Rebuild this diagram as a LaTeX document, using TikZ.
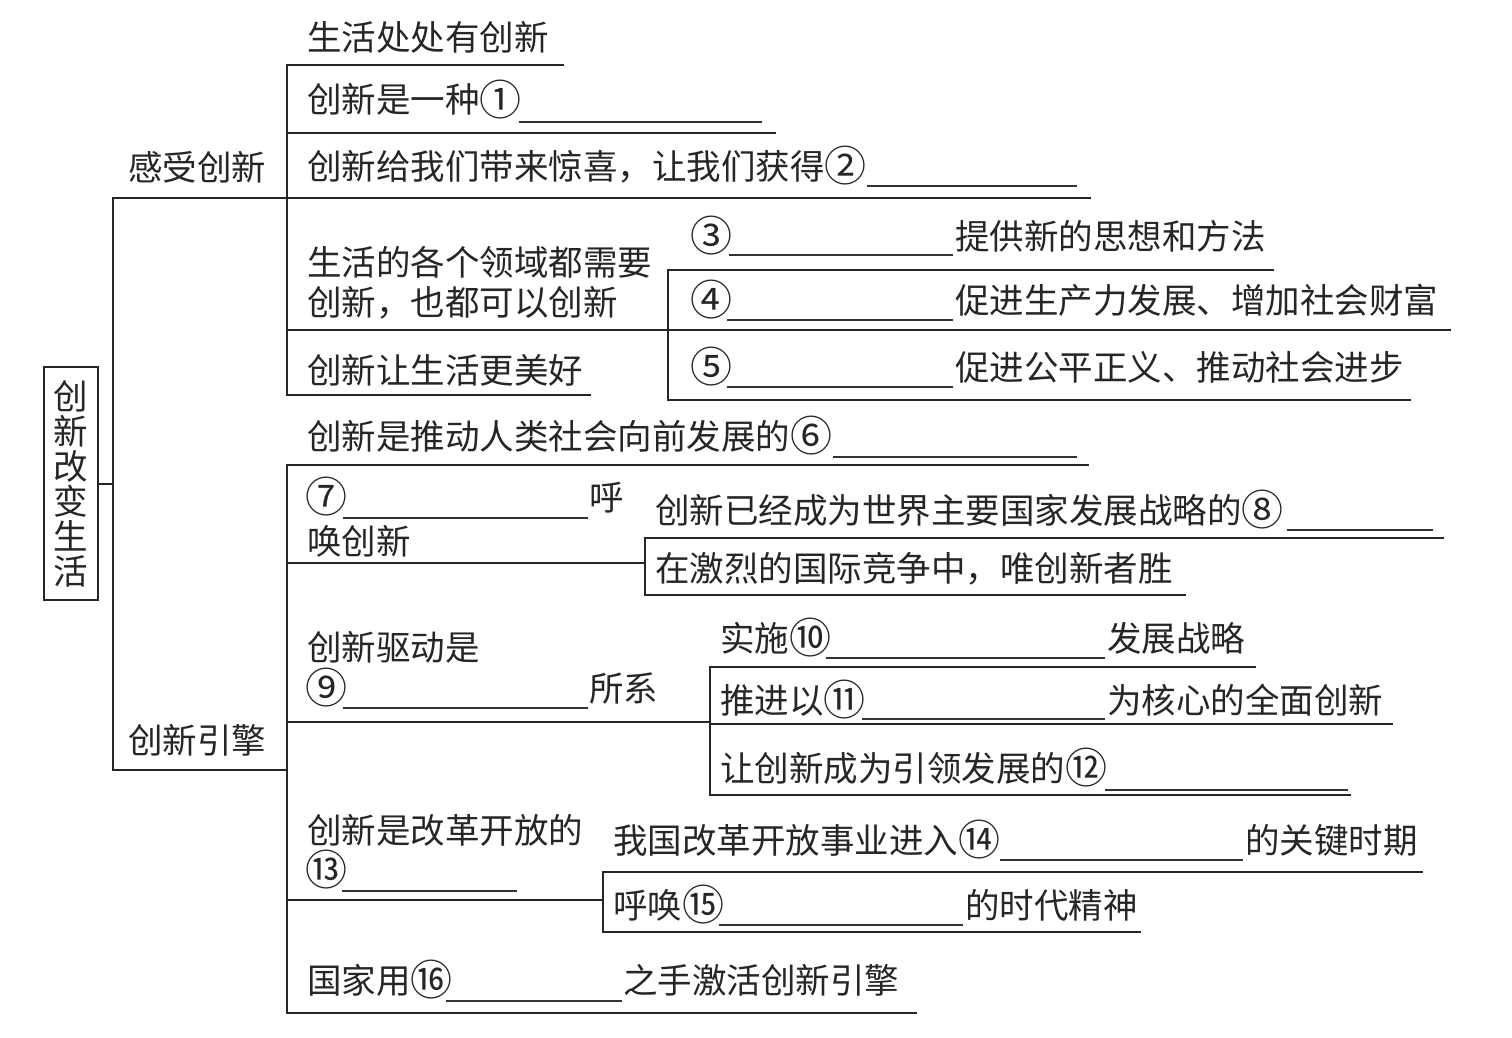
\documentclass[tikz,border=0pt]{standalone}
\usepackage{fontspec}
\newfontfamily\cjk{Noto Sans CJK SC}
\newcommand\cnum[1]{\raisebox{-2.5pt}{\fontsize{42}{42}\selectfont #1}}
\begin{document}
\begin{tikzpicture}[x=1pt,y=-1pt,
  t/.style={anchor=base west,inner sep=0pt,outer sep=0pt,text=black!85,font=\cjk\fontsize{34.5}{36}\selectfont},
  ln/.style={line width=2.3pt,draw=black!85,line cap=rect},
  bl/.style={line width=1.4pt,draw=black!80},
  rootbox/.style={draw=black!85,line width=2pt,minimum width=54pt,minimum height=233pt,inner sep=0pt,align=center,text=black!85,font=\cjk\fontsize{34.5}{35}\selectfont}]
\useasboundingbox (0,0) rectangle (1512,1038);
\fill[white] (0,0) rectangle (1512,1038);

% root
\node[rootbox] (root) at (71,483.5) {创\\新\\改\\变\\生\\活};
\coordinate (sp) at (113,484);
\draw[ln] (root.east |- sp) -- (sp);
\draw[ln] (113,198) -- (113,770);
\draw[ln] (113,198) -- (287,198);
\draw[ln] (113,770) -- (287,770);
\node[t] (g1) at (128,180) {感受创新};
\node[t] (g2) at (128,753) {创新引擎};

% group 1
\draw[ln] (287,65) -- (287,395);
\draw[ln] (287,65) -- (563,65);
\draw[ln] (287,133) -- (775,133);
\draw[ln] (287,198) -- (1090,198);
\draw[ln] (287,330) -- (668,330);
\draw[ln] (287,395) -- (590,395);
\node[t] (a1) at (307,51) {生活处处有创新};
\node[t] (a2) at (307,113) {创新是一种\cnum{①}};
\draw[bl] (519,122) -- (762,122);
\node[t] (a3) at (307,179) {创新给我们带来惊喜，让我们获得\cnum{②}};
\draw[bl] (867,186) -- (1077,186);
\node[t] (a4) at (307,275) {生活的各个领域都需要};
\node[t] (a4b) at (307,315) {创新，也都可以创新};
\node[t] (a5) at (307,383) {创新让生活更美好};

% subgroup 1
\draw[ln] (668,270) -- (668,400);
\draw[ln] (668,270) -- (1273,270);
\draw[ln] (668,330) -- (1450,330);
\draw[ln] (668,400) -- (1410,400);
\node[t] (b1) at (690,249) {\cnum{③}};
\draw[bl] (729,255) -- (953,255);
\node[t] (b1t) at (955,249) {提供新的思想和方法};
\node[t] (b2) at (690,313) {\cnum{④}};
\draw[bl] (727,320) -- (953,320);
\node[t] (b2t) at (955,313) {促进生产力发展、增加社会财富};
\node[t] (b3) at (690,380) {\cnum{⑤}};
\draw[bl] (727,387) -- (953,387);
\node[t] (b3t) at (955,380) {促进公平正义、推动社会进步};

% group 2
\draw[ln] (287,465) -- (287,1013);
\draw[ln] (287,465) -- (1088,465);
\draw[ln] (287,563) -- (645,563);
\draw[ln] (287,722) -- (710,722);
\draw[ln] (287,900) -- (603,900);
\draw[ln] (287,1013) -- (916,1013);
\node[t] (c1) at (307,449) {创新是推动人类社会向前发展的\cnum{⑥}};
\draw[bl] (833,457) -- (1077,457);
\node[t] (c2) at (305,510) {\cnum{⑦}};
\draw[bl] (343,518) -- (588,518);
\node[t] (c2b) at (589,510) {呼};
\node[t] (c2c) at (307,554) {唤创新};
\node[t] (c3) at (307,660) {创新驱动是};
\node[t] (c3b) at (305,701) {\cnum{⑨}};
\draw[bl] (343,708) -- (588,708);
\node[t] (c3c) at (589,701) {所系};
\node[t] (c4) at (307,843) {创新是改革开放的};
\node[t] (c4b) at (305,883) {\cnum{⑬}};
\draw[bl] (342,891) -- (517,891);
\node[t] (c5) at (307,993) {国家用\cnum{⑯}};
\draw[bl] (446,1001) -- (622,1001);
\node[t] (c5b) at (623,993) {之手激活创新引擎};

% subgroup 7
\draw[ln] (645,538) -- (645,595);
\draw[ln] (645,538) -- (1443,538);
\draw[ln] (645,595) -- (1185,595);
\node[t] (d1) at (655,523) {创新已经成为世界主要国家发展战略的\cnum{⑧}};
\draw[bl] (1287,530) -- (1433,530);
\node[t] (d2) at (655,581) {在激烈的国际竞争中，唯创新者胜};

% subgroup 9
\draw[ln] (710,667) -- (710,795);
\draw[ln] (710,667) -- (1255,667);
\draw[ln] (710,724) -- (1392,724);
\draw[ln] (710,795) -- (1350,795);
\node[t] (e1) at (720,651) {实施\cnum{⑩}};
\draw[bl] (826,658) -- (1105,658);
\node[t] (e1t) at (1107,651) {发展战略};
\node[t] (e2) at (720,713) {推进以\cnum{⑪}};
\draw[bl] (862,719) -- (1105,719);
\node[t] (e2t) at (1107,713) {为核心的全面创新};
\node[t] (e3) at (720,781) {让创新成为引领发展的\cnum{⑫}};
\draw[bl] (1105,790) -- (1348,790);

% subgroup 13
\draw[ln] (603,872) -- (603,932);
\draw[ln] (603,872) -- (1422,872);
\draw[ln] (603,932) -- (1140,932);
\node[t] (f1) at (613,853) {我国改革开放事业进入\cnum{⑭}};
\draw[bl] (1000,860) -- (1243,860);
\node[t] (f1t) at (1245,853) {的关键时期};
\node[t] (f2) at (613,918) {呼唤\cnum{⑮}};
\draw[bl] (719,925) -- (963,925);
\node[t] (f2t) at (965,918) {的时代精神};
\end{tikzpicture}
\end{document}
